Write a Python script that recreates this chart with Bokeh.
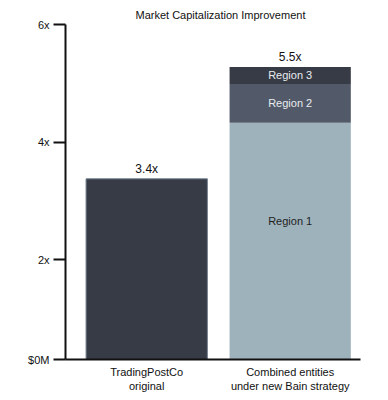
import numpy as np
from bokeh.plotting import figure
from bokeh.models import ColumnDataSource, Range1d, FixedTicker, Label
from bokeh.core.properties import value
from bokeh.embed import file_html
from bokeh.resources import INLINE

# ---- data ----
title_text = "Market Capitalization Improvement"
categories = ["TradingPostCo\noriginal", "Combined entities\nunder new Bain strategy"]
original_value = 3.375
original_label = "3.4x"
region_names = ["Region 1", "Region 2", "Region 3"]
region_values = [4.33, 0.66, 0.29]
combined_label = "5.5x"
y_ticks = [0.3, 2, 4, 6]
y_tick_labels = ["$0M", "2x", "4x", "6x"]

FONT = "Liberation Sans"
DARK = "#363b45"
MID = "#525a69"
LIGHT = "#9eb2bc"
region_colors = [LIGHT, MID, DARK]
region_text_colors = ["#1e1e1e", "#e9ecf0", "#e9ecf0"]

p = figure(width=380, height=398, output_backend="svg", toolbar_location=None,
           x_range=Range1d(-0.566, 1.49), y_range=Range1d(0.3, 6.411),
           min_border_left=65, min_border_right=20, min_border_top=0,
           min_border_bottom=39)
p.outline_line_color = None
p.xgrid.visible = False
p.ygrid.visible = False

xs = np.arange(len(categories))
bw = 0.845

# original bar
p.vbar(x=[xs[0]], bottom=[0], top=[original_value], width=bw,
       fill_color=DARK, line_color="#6f7a8a", line_width=1)

# stacked combined bar
tops = np.cumsum(region_values)
bottoms = tops - np.array(region_values)
src = ColumnDataSource(dict(x=[xs[1]] * len(region_names), bottom=bottoms, top=tops,
                            color=region_colors, name=region_names,
                            tc=region_text_colors,
                            mid=(np.maximum(bottoms, y_ticks[0]) + tops) / 2))
p.vbar(x="x", bottom="bottom", top="top", width=bw, fill_color="color",
       line_color=None, source=src)

# region labels
for i, nm in enumerate(region_names):
    p.text(x=[xs[1]], y=[src.data["mid"][i]], text=[nm], text_align="center",
           text_baseline="middle", text_font=value(FONT), text_font_size="11px",
           text_color=region_text_colors[i], y_offset=(-20 if i == 0 else 0))

# total labels
p.text(x=list(xs), y=[original_value, tops[-1]], text=[original_label, combined_label],
       text_align="center", text_baseline="bottom", text_font=value(FONT),
       text_font_size="12px", text_color="#111111", y_offset=-3)

# title
p.add_layout(Label(x=0.514, y=6.156, text=title_text, text_align="center",
                   text_baseline="middle", text_font=FONT, text_font_size="11px",
                   text_color="#111111"))

# axes
ya = p.yaxis[0]
ya.ticker = FixedTicker(ticks=y_ticks)
ya.major_label_overrides = {t: l for t, l in zip(y_ticks, y_tick_labels)}
ya.bounds = (y_ticks[0], y_ticks[-1])
ya.axis_line_width = 2
ya.axis_line_color = "#111111"
ya.major_tick_line_width = 2
ya.major_tick_line_color = "#111111"
ya.major_tick_out = 12
ya.major_tick_in = 0
ya.minor_tick_line_color = None
ya.major_label_standoff = 4
ya.major_label_text_font = FONT
ya.major_label_text_font_size = "11px"
ya.major_label_text_color = "#111111"

xa = p.xaxis[0]
xa.ticker = FixedTicker(ticks=list(xs))
xa.major_label_overrides = {int(i): c for i, c in zip(xs, categories)}
xa.axis_line_width = 2
xa.axis_line_color = "#111111"
xa.major_tick_line_color = None
xa.minor_tick_line_color = None
xa.major_label_standoff = 0
xa.major_label_text_font = FONT
xa.major_label_text_font_size = "11px"
xa.major_label_text_color = "#111111"

open("out.html", "w").write(file_html(p, INLINE))
